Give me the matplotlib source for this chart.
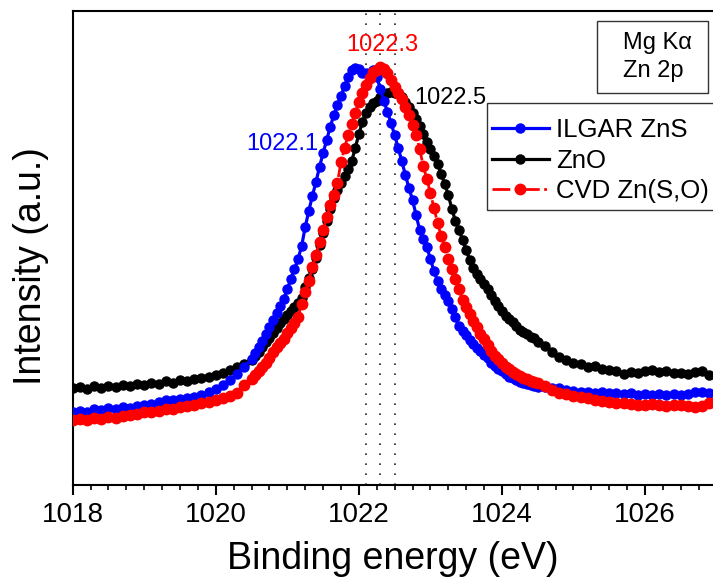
import numpy as np
import matplotlib
matplotlib.use("Agg")
import matplotlib.pyplot as plt
from matplotlib.patches import Rectangle
from matplotlib.ticker import MultipleLocator

plt.rcParams["font.family"] = ["Liberation Sans", "DejaVu Sans"]

# Binding-energy grid (eV): coarse on the flat tails, finer over the Zn 2p3/2 peak
energy_low = [round(1018.0 + 0.1 * i, 2) for i in range(25)]      # 1018.0 .. 1020.4
energy_mid = [round(1020.5 + 0.05 * i, 2) for i in range(80)]     # 1020.50 .. 1024.45
energy_high = [round(1024.5 + 0.1 * i, 2) for i in range(26)]     # 1024.5 .. 1027.0
energy = np.array(energy_low + energy_mid + energy_high)

# Intensities (a.u.)
ilgar_zns = [
    73, 74, 73, 76, 75, 77, 76, 78, 77, 79, 80, 81, 83, 85, 85, 86, 87, 88, 90, 93,
    96, 100, 105, 111, 118,
    126, 132, 138, 144, 151, 158, 165, 172, 179, 186, 196, 206, 216, 226, 239, 258,
    274, 289, 303, 318, 332, 345, 358, 370, 380, 389, 399, 408, 415, 417, 416, 412,
    412, 412, 415, 408, 396, 384, 373, 362, 350, 337, 324, 310, 297, 285, 270, 255,
    246, 238, 226, 214, 204, 196, 190, 184, 176, 168, 159, 154, 150, 145, 141, 137,
    134, 130, 127, 122, 119, 116, 114, 111, 108, 107, 105, 103, 102, 101, 100, 99,
    98, 98, 97, 97, 95, 94, 93, 93, 92, 93, 92, 92, 91, 92, 90, 91, 90, 91, 90, 91,
    90, 91, 93, 93, 92, 92,
]
zno = [
    97, 98, 96, 99, 97, 99, 98, 100, 99, 101, 100, 102, 101, 104, 102, 105, 104, 106,
    107, 108, 110, 112, 115, 118, 121,
    125, 129, 133, 138, 143, 147, 152, 157, 162, 166, 170, 174, 178, 182, 187, 198,
    207, 216, 227, 240, 252, 264, 276, 287, 295, 302, 309, 316, 324, 337, 351, 363,
    372, 378, 382, 384, 388, 390, 392, 393, 392, 391, 388, 383, 378, 372, 366, 359,
    351, 343, 336, 329, 321, 311, 301, 290, 276, 264, 255, 245, 235, 225, 217, 211,
    206, 201, 196, 190, 184, 179, 174, 169, 166, 163, 159, 155, 153, 151, 148, 147,
    143, 139, 133, 128, 125, 122, 121, 118, 119, 116, 115, 114, 111, 113, 112, 114,
    115, 113, 114, 112, 112, 111, 113, 114, 110, 108,
]
cvd_zn_so = [
    65, 66, 65, 67, 66, 68, 67, 69, 70, 71, 73, 73, 74, 76, 76, 78, 79, 80, 82, 83,
    85, 87, 89, 92, 100,
    106, 110, 114, 118, 122, 127, 133, 138, 142, 146, 152, 157, 162, 168, 181, 193,
    204, 218, 230, 243, 255, 268, 280, 290, 302, 323, 337, 350, 361, 372, 383, 392,
    400, 407, 413, 415, 418, 416, 412, 405, 398, 392, 386, 378, 370, 360, 350, 336,
    319, 306, 292, 277, 262, 249, 238, 226, 216, 206, 196, 185, 178, 171, 164, 158,
    151, 146, 140, 134, 129, 126, 122, 118, 116, 113, 111, 109, 107, 106, 104, 103,
    102, 99, 95, 92, 91, 89, 88, 87, 85, 84, 83, 82, 82, 81, 80, 80, 81, 80, 79, 80,
    80, 79, 78, 79, 82, 85,
]

series_labels = ["ILGAR ZnS", "ZnO", "CVD Zn(S,O)"]
series_colors = ["#0000FF", "#000000", "#FF0000"]

peak_positions = [1022.1, 1022.3, 1022.5]
peak_colors = ["#0000FF", "#FF0000", "#000000"]

W, H = 713, 585
fig = plt.figure(figsize=(W / 100, H / 100), dpi=100)
ax = fig.add_axes([72.7 / W, 100 / H, 640.3 / W, 474 / H])

ax.plot(energy, ilgar_zns, color=series_colors[0], lw=2.3, marker="o",
        ms=6.5, mec=series_colors[0], label=series_labels[0], zorder=4)
ax.plot(energy, zno, color=series_colors[1], lw=2.3, marker="o",
        ms=6.5, mec=series_colors[1], label=series_labels[1], zorder=3)
ax.plot(energy, cvd_zn_so, color=series_colors[2], lw=2.0, ls="-.", marker="o",
        ms=7.5, mec=series_colors[2], label=series_labels[2], zorder=5)

# Peak-position markers
for e in peak_positions:
    ax.axvline(e, color="#222222", lw=1.2, ls=(0, (1, 5)), zorder=2)

ax.text(1021.43, 341, f"{peak_positions[0]:.1f}", color=peak_colors[0],
        fontsize=17, ha="right", va="center", zorder=6)
ax.text(1022.33, 440, f"{peak_positions[1]:.1f}", color=peak_colors[1],
        fontsize=17, ha="center", va="center", zorder=6)
ax.text(1022.78, 387, f"{peak_positions[2]:.1f}", color=peak_colors[2],
        fontsize=17, ha="left", va="center", zorder=6)

ax.set_xlim(1018, 1026.95)
ax.set_ylim(0, 474)
ax.xaxis.set_major_locator(MultipleLocator(2))
ax.xaxis.set_minor_locator(MultipleLocator(0.25))
ax.tick_params(axis="x", which="major", direction="out", length=7, width=1.5,
               labelsize=20, pad=5)
ax.tick_params(axis="x", which="minor", direction="out", length=3.5, width=1.2)
ax.set_yticks([])
for side in ["left", "bottom", "top"]:
    ax.spines[side].set_linewidth(1.5)
ax.spines["right"].set_visible(False)

ax.set_xlabel("Binding energy (eV)", fontsize=27)
ax.xaxis.set_label_coords(0.5, -0.118)
ax.set_ylabel("Intensity (a.u.)", fontsize=27)
ax.yaxis.set_label_coords(-0.037, 0.462)

# Legend entries (frame drawn separately so it can run off the right edge)
leg = ax.legend(loc="upper left", bbox_to_anchor=(492 / W, (H - 118) / H),
                bbox_transform=fig.transFigure, fontsize=18.5, frameon=False,
                borderaxespad=0, borderpad=0, handlelength=2.2,
                handletextpad=0.3, labelspacing=0.26)
leg.set_zorder(10)
ax.add_patch(Rectangle((487 / W, (H - 210) / H), 240 / W, 107 / H,
                       transform=fig.transFigure, facecolor="white",
                       edgecolor="#333333", lw=1.0, zorder=9, clip_on=False))

# Source / core-level annotation box
ax.add_patch(Rectangle((597 / W, (H - 93) / H), 111 / W, 72 / H,
                       transform=fig.transFigure, fill=False,
                       edgecolor="#333333", lw=1.0, zorder=10, clip_on=False))
fig.text(623 / W, (H - 43) / H, "Mg K\u03b1", fontsize=17, ha="left", va="center")
fig.text(623 / W, (H - 71) / H, "Zn 2p", fontsize=17, ha="left", va="center")

fig.savefig("out.png", dpi=100)
